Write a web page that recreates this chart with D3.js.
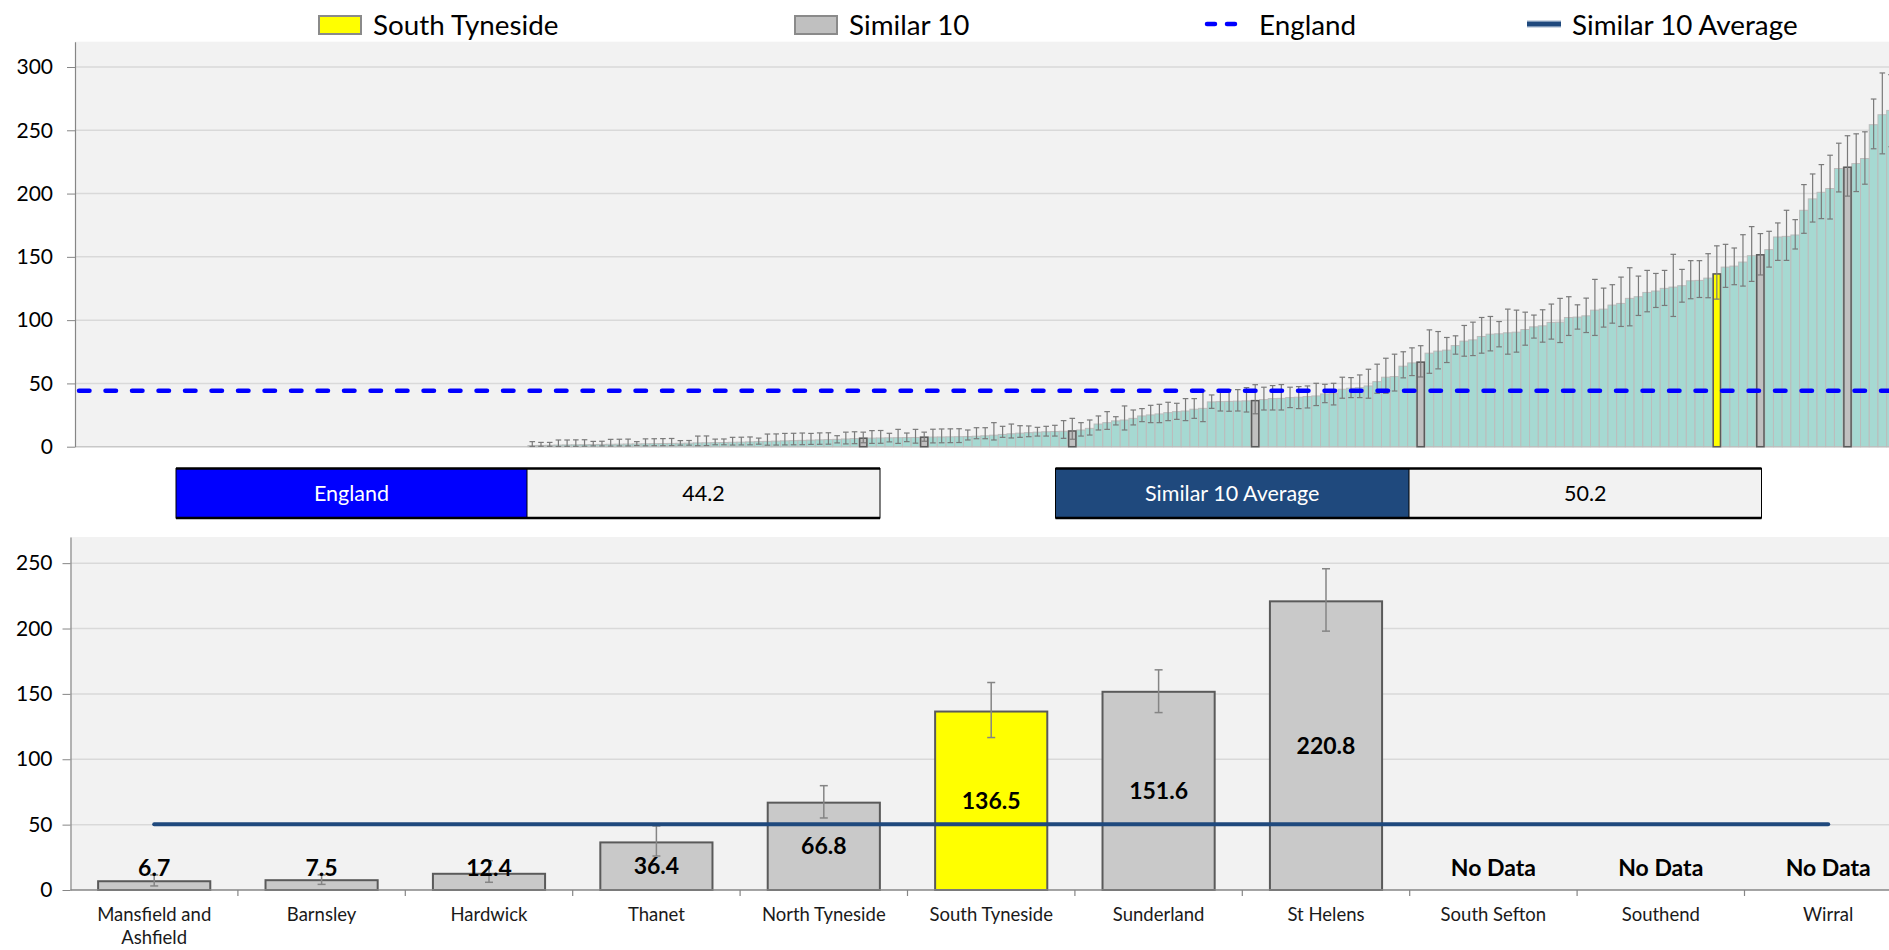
<!DOCTYPE html>
<html><head><meta charset="utf-8">
<script src="https://cdn.jsdelivr.net/npm/d3@7"></script>
<style>body{margin:0;background:#fff;} svg{display:block;font-family:Lato,"Noto Sans",sans-serif;}</style>
</head><body><svg id="c" width="1889" height="950"></svg>
<script>
// ---------- DATA ----------
const similarNames = ["Mansfield and Ashfield","Barnsley","Hardwick","Thanet","North Tyneside","South Tyneside","Sunderland","St Helens","South Sefton","Southend","Wirral"];
const similarValues = [6.7, 7.5, 12.4, 36.4, 66.8, 136.5, 151.6, 220.8, null, null, null];
const similarUpper  = [11.5, 11.5, 22.4, 49.0, 79.8, 158.7, 168.4, 245.7, null, null, null];
const similarLower  = [3.1, 4.3, 5.9, 26.0, 55.1, 116.6, 135.7, 198.0, null, null, null];
const highlightArea = "South Tyneside";
const englandValue = 44.2;
const similarAverage = 50.2;
const topTicks = [0, 50, 100, 150, 200, 250, 300];
const bottomTicks = [0, 50, 100, 150, 200, 250];

// all areas, sorted ascending (null = no data)
const allValues = [
 null,null,null,null,null,null,null,null,null,null,null,null,null,null,null,null,null,null,null,null,null,null,null,null,null,null,
 null,null,null,null,null,null,null,null,null,null,null,null,null,null,null,null,null,null,null,null,null,null,null,null,null,null,
 0.9,1.0,1.1,1.3,1.4,1.5,1.6,1.7,1.8,
 1.9,2.0,2.1,2.2,2.3,2.4,2.5,2.6,2.7,2.8,
 3.0,3.1,3.2,3.3,3.5,3.6,3.8,4.0,4.2,4.4,
 4.6,4.8,5.0,5.2,5.4,5.6,5.8,6.1,6.4,6.7,
 6.8,6.9,7.0,7.1,7.2,7.3,7.5,7.6,7.7,7.8,7.9,
 8.0,8.3,8.6,9.1,9.7,10.2,10.7,11.1,11.5,11.8,12.0,12.2,12.4,13.2,14.5,
 17.9,19.0,20.4,21.1,22.4,24.3,25.1,25.9,26.9,27.7,28.2,29.6,30.3,
 35.4,35.6,35.8,36.0,36.2,36.4,37.2,38.0,38.2,38.8,39.1,39.6,40.1,41.7,41.9,45.4,46.2,46.7,48.0,51.4,54.9,55.4,63.6,66.2,66.8,
 73.9,75.5,76.3,79.9,83.4,84.4,87.1,88.9,89.2,90.0,90.5,92.6,94.7,95.5,98.2,98.4,102.1,102.4,103.4,107.9,108.7,111.9,113.2,117.2,118.5,121.9,123.0,125.1,126.1,127.2,131.1,131.4,133.2,136.5,
 141.9,142.7,145.9,150.9,151.6,155.7,165.7,166.2,167.3,186.8,195.8,201.0,204.0,219.8,220.8,223.7,227.7,254.4,262.3,265.7
];
const allUpper = [
 null,null,null,null,null,null,null,null,null,null,null,null,null,null,null,null,null,null,null,null,null,null,null,null,null,null,
 null,null,null,null,null,null,null,null,null,null,null,null,null,null,null,null,null,null,null,null,null,null,null,null,null,null,
 4.0,3.4,3.4,5.3,5.3,5.4,5.5,4.2,4.3,
 5.8,5.9,6.0,4.0,6.2,6.3,6.4,6.5,4.8,4.9,
 8.4,8.5,6.0,6.1,7.4,7.5,7.7,6.8,10.0,10.1,
 10.5,10.6,10.8,10.5,10.9,11.0,8.7,11.5,11.8,11.5,
 12.7,12.8,10.6,13.7,10.8,13.7,11.5,13.8,14.0,14.1,14.2,
 13.2,15.0,15.0,19.0,16.1,17.9,16.6,16.4,15.3,16.1,16.9,20.6,22.4,19.0,21.1,
 24.3,27.7,23.7,32.2,29.0,30.1,32.7,33.5,35.1,34.3,38.0,38.0,44.1,
 40.9,44.1,44.9,45.1,46.7,49.0,47.0,48.3,49.1,47.0,47.5,48.0,50.1,49.3,50.1,54.9,54.6,56.7,61.2,65.2,69.9,73.1,75.0,78.1,79.8,
 92.3,91.0,86.3,87.6,95.8,98.4,102.1,102.9,98.9,108.7,107.9,106.3,104.0,108.2,112.7,117.2,118.5,112.1,117.4,132.2,125.3,128.0,134.0,141.4,134.8,139.3,136.9,139.3,152.0,140.1,147.0,147.0,152.5,158.7,
 159.9,157.0,167.5,173.9,168.4,170.2,176.8,186.8,179.4,207.1,215.5,222.9,230.3,239.8,245.7,247.2,248.8,274.7,295.3,294.0
];
const allLower = [
 null,null,null,null,null,null,null,null,null,null,null,null,null,null,null,null,null,null,null,null,null,null,null,null,null,null,
 null,null,null,null,null,null,null,null,null,null,null,null,null,null,null,null,null,null,null,null,null,null,null,null,null,null,
 0.2,0.3,0.3,0.2,0.3,0.3,0.4,0.6,0.6,
 0.5,0.6,0.6,0.9,0.7,0.8,0.8,0.9,1.2,1.2,
 0.8,0.9,1.5,1.5,1.3,1.4,1.5,2.0,1.2,1.3,
 1.4,1.5,1.6,1.8,1.9,2.0,3.0,2.2,2.4,3.1,
 2.6,2.7,3.8,2.6,4.0,2.8,4.3,3.0,3.1,3.2,3.3,
 5.3,6.3,6.3,5.3,7.4,6.9,7.4,7.9,8.4,8.4,8.4,6.6,5.9,8.4,9.2,
 13.2,13.7,17.2,13.2,17.2,19.8,19.0,19.0,20.6,21.6,20.6,22.4,19.8,
 30.3,28.2,28.0,28.2,27.4,26.0,29.0,29.0,29.0,30.9,30.1,30.6,32.5,34.8,33.0,38.3,38.8,38.8,38.3,42.2,42.2,44.0,54.4,56.2,55.1,
 58.0,61.5,66.5,73.1,71.5,72.0,73.9,75.7,78.9,73.1,74.7,80.2,85.8,82.6,85.0,82.3,87.9,92.9,90.2,87.9,94.5,97.6,95.0,95.5,103.7,106.6,110.0,111.6,102.9,114.2,116.9,117.9,117.7,116.6,
 125.9,128.0,126.9,130.6,135.7,141.9,147.2,147.2,156.2,168.6,177.5,180.2,179.9,201.3,198.0,201.6,207.4,235.4,231.4,237.0
];

// ---------- STYLE ----------
const W = 1889, H = 950;
const teal = "#a6d9d2", greyFill = "#c0c0c0", yellow = "#ffff00", darkBorder = "#5a5a5a";
const navy = "#1f497d", blue = "#0000ff", plotBg = "#f2f2f2", gridC = "#d9d9d9", axisC = "#868686";

const svg = d3.select("#c");
svg.append("rect").attr("width", W).attr("height", H).attr("fill", "#fff");

// ---------- LEGEND ----------
const leg = svg.append("g").attr("font-size", 27.8).attr("fill", "#000");
leg.append("rect").attr("x", 319).attr("y", 16).attr("width", 42).attr("height", 18).attr("fill", yellow).attr("stroke", "#8a8a8a").attr("stroke-width", 2);
leg.append("text").attr("x", 373).attr("y", 25).attr("dy", "0.35em").text("South Tyneside");
leg.append("rect").attr("x", 795).attr("y", 16).attr("width", 42).attr("height", 18).attr("fill", greyFill).attr("stroke", "#8a8a8a").attr("stroke-width", 2);
leg.append("text").attr("x", 849).attr("y", 25).attr("dy", "0.35em").text("Similar 10");
leg.append("line").attr("x1", 1207).attr("x2", 1241).attr("y1", 24).attr("y2", 24).attr("stroke", blue).attr("stroke-width", 4.5).attr("stroke-linecap", "round").attr("stroke-dasharray", "8 12");
leg.append("text").attr("x", 1259).attr("y", 25).attr("dy", "0.35em").text("England");
leg.append("line").attr("x1", 1527).attr("x2", 1561).attr("y1", 24).attr("y2", 24).attr("stroke", "#9fb3cc").attr("stroke-width", 7);
leg.append("line").attr("x1", 1527).attr("x2", 1561).attr("y1", 24).attr("y2", 24).attr("stroke", navy).attr("stroke-width", 4.5);
leg.append("text").attr("x", 1572).attr("y", 25).attr("dy", "0.35em").text("Similar 10 Average");

// ---------- TOP CHART ----------
const topG = svg.append("g");
const topLeft = 75, topStep = 8.71;
const xTop = d3.scaleBand().domain(d3.range(allValues.length)).range([topLeft, topLeft + allValues.length * topStep]).padding(0);
const yTop = d3.scaleLinear().domain([0, 320]).range([446.7, 41.7]);
topG.append("rect").attr("x", topLeft).attr("y", yTop(320)).attr("width", W - topLeft).attr("height", yTop(0) - yTop(320)).attr("fill", plotBg);
topG.selectAll("line.grid").data(topTicks.filter(t => t > 0)).join("line").attr("class", "grid")
  .attr("x1", topLeft).attr("x2", W).attr("y1", d => yTop(d)).attr("y2", d => yTop(d))
  .attr("stroke", gridC).attr("stroke-width", 1.5);
topG.append("line").attr("x1", topLeft).attr("x2", W).attr("y1", yTop(0)).attr("y2", yTop(0)).attr("stroke", "#c8c8c8").attr("stroke-width", 1.5);

const topData = allValues.map((v, i) => ({ i, v, hi: allUpper[i], lo: allLower[i] })).filter(d => d.v != null);
const bw = xTop.bandwidth();
topG.selectAll("rect.bar").data(topData).join("rect").attr("class", "bar")
  .attr("x", d => xTop(d.i)).attr("width", bw)
  .attr("y", d => yTop(d.v)).attr("height", d => yTop(0) - yTop(d.v))
  .attr("fill", teal).attr("stroke", "#bcbcbc").attr("stroke-width", 1);

const hlData = topData.filter(d => similarValues.indexOf(d.v) >= 0)
  .map(d => Object.assign({}, d, { name: similarNames[similarValues.indexOf(d.v)] }));
topG.selectAll("rect.hl").data(hlData).join("rect").attr("class", "hl")
  .attr("x", d => xTop(d.i) + 0.75).attr("width", bw - 1.5)
  .attr("y", d => yTop(d.v)).attr("height", d => yTop(0) - yTop(d.v))
  .attr("fill", d => d.name === highlightArea ? yellow : greyFill)
  .attr("stroke", darkBorder).attr("stroke-width", 1.5);

const eb = topG.append("g").attr("stroke", "#7a7a7a").attr("stroke-width", 1.2);
topData.forEach(d => {
  const cx = xTop(d.i) + bw / 2;
  eb.append("line").attr("x1", cx).attr("x2", cx).attr("y1", yTop(d.hi)).attr("y2", yTop(d.lo));
  eb.append("line").attr("x1", cx - 2.8).attr("x2", cx + 2.8).attr("y1", yTop(d.hi)).attr("y2", yTop(d.hi));
  eb.append("line").attr("x1", cx - 2.8).attr("x2", cx + 2.8).attr("y1", yTop(d.lo)).attr("y2", yTop(d.lo));
});

topG.append("line").attr("x1", topLeft + 4).attr("x2", W).attr("y1", yTop(englandValue)).attr("y2", yTop(englandValue))
  .attr("stroke", blue).attr("stroke-width", 4.5).attr("stroke-linecap", "round").attr("stroke-dasharray", "10.5 16");

const yAxT = topG.append("g").attr("transform", `translate(${topLeft},0)`)
  .call(d3.axisLeft(yTop).tickValues(topTicks).tickSize(8).tickSizeOuter(0).tickPadding(14));
yAxT.select(".domain").attr("stroke", axisC).attr("stroke-width", 1.2);
yAxT.selectAll(".tick line").attr("stroke", axisC);
yAxT.selectAll(".tick text").attr("font-size", 21).attr("font-family", "Lato").attr("fill", "#000");

// ---------- SUMMARY BOXES ----------
function box(x, w1, w2, label, value, color) {
  const g = svg.append("g");
  const y0 = 468.5, h = 49.5;
  g.append("rect").attr("x", x).attr("y", y0).attr("width", w1).attr("height", h).attr("fill", color);
  g.append("rect").attr("x", x + w1).attr("y", y0).attr("width", w2).attr("height", h).attr("fill", plotBg);
  g.append("rect").attr("x", x).attr("y", y0).attr("width", w1 + w2).attr("height", h).attr("fill", "none").attr("stroke", "#000").attr("stroke-width", 1);
  g.append("line").attr("x1", x + w1).attr("x2", x + w1).attr("y1", y0).attr("y2", y0 + h).attr("stroke", "#000").attr("stroke-width", 1);
  g.append("line").attr("x1", x).attr("x2", x + w1 + w2).attr("y1", y0).attr("y2", y0).attr("stroke", "#000").attr("stroke-width", 2.5);
  g.append("line").attr("x1", x).attr("x2", x + w1 + w2).attr("y1", y0 + h).attr("y2", y0 + h).attr("stroke", "#000").attr("stroke-width", 2.5);
  g.append("text").attr("x", x + w1 / 2).attr("y", y0 + h / 2).attr("dy", "0.35em").attr("text-anchor", "middle")
    .attr("font-size", 21.5).attr("fill", "#fff").text(label);
  g.append("text").attr("x", x + w1 + w2 / 2).attr("y", y0 + h / 2).attr("dy", "0.35em").attr("text-anchor", "middle")
    .attr("font-size", 21.5).attr("fill", "#000").text(value.toFixed(1));
}
box(176, 351, 353, "England", englandValue, blue);
box(1055.5, 353.5, 352.5, "Similar 10 Average", similarAverage, navy);

// ---------- BOTTOM CHART ----------
const botG = svg.append("g");
const botLeft = 70.5, botStep = 167.4;
const xBot = d3.scaleBand().domain(similarNames).range([botLeft, botLeft + similarNames.length * botStep]).padding(0);
const yBot = d3.scaleLinear().domain([0, 270]).range([890, 537]);
botG.append("rect").attr("x", botLeft).attr("y", yBot(270)).attr("width", W - botLeft).attr("height", yBot(0) - yBot(270)).attr("fill", plotBg);
botG.selectAll("line.grid").data(bottomTicks.filter(t => t > 0)).join("line").attr("class", "grid")
  .attr("x1", botLeft).attr("x2", W).attr("y1", d => yBot(d)).attr("y2", d => yBot(d))
  .attr("stroke", gridC).attr("stroke-width", 1.5);

const botData = similarNames.map((n, i) => ({ n, v: similarValues[i], hi: similarUpper[i], lo: similarLower[i] }));
const bb = xBot.bandwidth() * 0.67;
botG.selectAll("rect.bar").data(botData.filter(d => d.v != null)).join("rect").attr("class", "bar")
  .attr("x", d => xBot(d.n) + (xBot.bandwidth() - bb) / 2).attr("width", bb)
  .attr("y", d => yBot(d.v)).attr("height", d => yBot(0) - yBot(d.v))
  .attr("fill", d => d.n === highlightArea ? yellow : "#c9c9c9")
  .attr("stroke", darkBorder).attr("stroke-width", 2);

const eb2 = botG.append("g").attr("stroke", "#858585").attr("stroke-width", 1.5);
botData.filter(d => d.v != null).forEach(d => {
  const cx = xBot(d.n) + xBot.bandwidth() / 2;
  eb2.append("line").attr("x1", cx).attr("x2", cx).attr("y1", yBot(d.hi)).attr("y2", yBot(d.lo));
  eb2.append("line").attr("x1", cx - 4).attr("x2", cx + 4).attr("y1", yBot(d.hi)).attr("y2", yBot(d.hi));
  eb2.append("line").attr("x1", cx - 4).attr("x2", cx + 4).attr("y1", yBot(d.lo)).attr("y2", yBot(d.lo));
});

// category axis
botG.append("line").attr("x1", botLeft).attr("x2", W).attr("y1", yBot(0)).attr("y2", yBot(0)).attr("stroke", axisC).attr("stroke-width", 1.5);
botG.selectAll("line.ctick").data(similarNames.slice(1)).join("line").attr("class", "ctick")
  .attr("x1", d => xBot(d)).attr("x2", d => xBot(d)).attr("y1", yBot(0)).attr("y2", yBot(0) + 6)
  .attr("stroke", axisC).attr("stroke-width", 1.2);

// average line
botG.append("line")
  .attr("x1", xBot(similarNames[0]) + xBot.bandwidth() / 2)
  .attr("x2", xBot(similarNames[similarNames.length - 1]) + xBot.bandwidth() / 2)
  .attr("y1", yBot(similarAverage)).attr("y2", yBot(similarAverage))
  .attr("stroke", navy).attr("stroke-width", 4).attr("stroke-linecap", "round");

// y axis
const yAxB = botG.append("g").attr("transform", `translate(${botLeft},0)`)
  .call(d3.axisLeft(yBot).tickValues(bottomTicks).tickSize(8).tickSizeOuter(0).tickPadding(10));
yAxB.select(".domain").attr("stroke", axisC).attr("stroke-width", 1.2);
yAxB.selectAll(".tick line").attr("stroke", axisC);
yAxB.selectAll(".tick text").attr("font-size", 21).attr("font-family", "Lato").attr("fill", "#000");

// data labels
botG.selectAll("text.dl").data(botData).join("text").attr("class", "dl")
  .attr("x", d => xBot(d.n) + xBot.bandwidth() / 2)
  .attr("y", d => d.v == null ? yBot(0) - 22 : Math.min((yBot(d.v) + yBot(0)) / 2, yBot(0) - 22))
  .attr("dy", "0.35em").attr("text-anchor", "middle").attr("font-weight", 700).attr("font-size", 23).attr("fill", "#000")
  .text(d => d.v == null ? "No Data" : d.v.toFixed(1));

// category labels with wrapping
const cl = botG.selectAll("text.cl").data(similarNames).join("text").attr("class", "cl")
  .attr("x", d => xBot(d) + xBot.bandwidth() / 2).attr("y", 915).attr("dy", "0.35em")
  .attr("text-anchor", "middle").attr("font-size", 18.5).attr("fill", "#1a1a1a").text(d => d);
cl.each(function (d) {
  const t = d3.select(this);
  if (this.getComputedTextLength() <= xBot.bandwidth() * 0.85) return;
  const words = d.split(" ");
  t.text(null);
  let line = [];
  let ts = t.append("tspan").attr("x", t.attr("x")).attr("dy", "0.35em");
  words.forEach(w => {
    line.push(w);
    ts.text(line.join(" "));
    if (ts.node().getComputedTextLength() > xBot.bandwidth() * 0.85 && line.length > 1) {
      line.pop(); ts.text(line.join(" ")); line = [w];
      ts = t.append("tspan").attr("x", t.attr("x")).attr("dy", "1.22em").text(w);
    }
  });
});
</script>
</body></html>
